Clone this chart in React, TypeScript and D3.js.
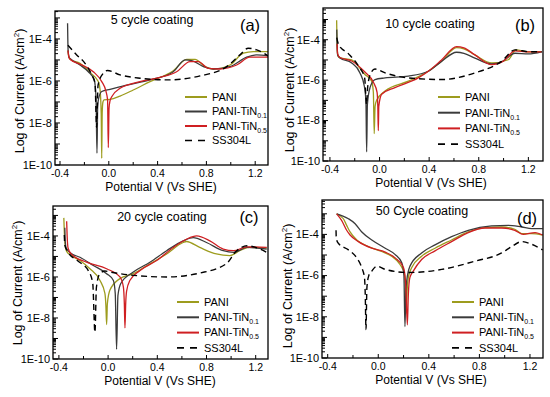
import React from 'react'
import * as d3 from 'd3'

// legend / series
const seriesNames = ['PANI', 'PANI-TiN', 'PANI-TiN', 'SS304L']
const seriesSubs = ['', '0.1', '0.5', '']
const seriesColors = ['#9d9c1e', '#3b3b3b', '#cf1f22', '#000000']

const xMajor = [-0.4, 0.0, 0.4, 0.8, 1.2]
const xMinor = [-0.2, 0.2, 0.6, 1.0]
const yLabeled = [-10, -8, -6, -4]

// [potential V vs SHE, log10 current A/cm2]
const aPani = [[-0.334,-4.55],[-0.328,-4.85],[-0.315,-4.98],[-0.236,-5.16],[-0.154,-5.6],[-0.086,-6.03],[-0.072,-6.4],[-0.062,-7.6],[-0.058,-9.68],[-0.054,-7.5],[-0.048,-7.0],[-0.039,-6.9],[0.01,-6.88],[0.092,-6.72],[0.2,-6.43],[0.338,-6.03],[0.529,-5.51],[0.638,-4.97],[0.707,-4.97],[0.79,-5.32],[0.857,-5.43],[0.993,-5.24],[1.103,-4.68],[1.185,-4.6],[1.307,-4.6]]
const aTin01 = [[-0.338,-3.25],[-0.336,-4.0],[-0.333,-4.6],[-0.325,-4.88],[-0.313,-4.95],[-0.236,-5.24],[-0.168,-5.56],[-0.119,-5.95],[-0.105,-6.75],[-0.097,-9.44],[-0.091,-7.2],[-0.084,-6.85],[-0.058,-6.5],[0.01,-6.4],[0.147,-6.2],[0.338,-5.95],[0.529,-5.56],[0.625,-5.0],[0.68,-5.03],[0.775,-5.32],[0.857,-5.43],[0.993,-5.32],[1.13,-4.87],[1.212,-4.76],[1.307,-4.81]]
const aTin05 = [[-0.334,-4.55],[-0.328,-4.85],[-0.315,-4.98],[-0.236,-5.2],[-0.127,-5.56],[-0.058,-6.03],[-0.023,-6.5],[-0.01,-6.9],[-0.004,-9.17],[0.002,-7.3],[0.01,-6.95],[0.024,-6.75],[0.092,-6.35],[0.256,-6.03],[0.42,-5.83],[0.556,-5.56],[0.666,-5.08],[0.734,-5.08],[0.816,-5.4],[0.911,-5.43],[1.048,-5.24],[1.157,-4.87],[1.307,-4.87]]
const aSs = [[-0.335,-4.3],[-0.263,-4.76],[-0.195,-5.16],[-0.14,-5.71],[-0.113,-6.11],[-0.1,-8.2],[-0.088,-6.2],[-0.045,-5.63],[-0.012,-5.5],[0.092,-5.71],[0.256,-5.87],[0.475,-5.95],[0.748,-5.76],[0.966,-5.32],[1.075,-4.76],[1.143,-4.44],[1.212,-4.52],[1.307,-4.81]]

const bPani = [[-0.346,-3.04],[-0.344,-3.8],[-0.341,-4.5],[-0.335,-4.8],[-0.319,-4.9],[-0.225,-5.0],[-0.118,-5.72],[-0.064,-6.05],[-0.05,-6.6],[-0.043,-8.65],[-0.036,-7.3],[-0.024,-7.0],[0.044,-6.54],[0.232,-6.05],[0.393,-5.56],[0.5,-5.07],[0.621,-4.39],[0.68,-4.45],[0.769,-4.75],[0.904,-5.15],[1.038,-4.99],[1.1,-4.5],[1.2,-4.6],[1.307,-4.59]]
const bTin01 = [[-0.345,-3.5],[-0.342,-4.3],[-0.338,-4.75],[-0.319,-4.9],[-0.225,-5.15],[-0.158,-5.64],[-0.123,-6.29],[-0.11,-7.0],[-0.104,-9.55],[-0.098,-7.2],[-0.077,-6.37],[-0.037,-5.97],[0.044,-5.89],[0.232,-5.8],[0.393,-5.56],[0.5,-5.07],[0.621,-4.62],[0.68,-4.67],[0.769,-4.91],[0.904,-5.2],[0.984,-5.1],[1.092,-4.67],[1.2,-4.7],[1.307,-4.6]]
const bTin05 = [[-0.342,-4.2],[-0.338,-4.7],[-0.319,-4.88],[-0.225,-5.05],[-0.118,-5.6],[-0.05,-6.1],[-0.02,-6.6],[-0.014,-7.3],[-0.01,-8.5],[-0.006,-7.3],[0.017,-6.7],[0.124,-6.37],[0.312,-5.89],[0.393,-5.56],[0.5,-5.0],[0.621,-4.34],[0.68,-4.4],[0.769,-4.75],[0.904,-5.23],[1.0,-5.05],[1.092,-4.55],[1.2,-4.6],[1.307,-4.6]]
const bSs = [[-0.345,-3.9],[-0.33,-4.25],[-0.25,-4.7],[-0.17,-5.3],[-0.12,-5.9],[-0.105,-7.2],[-0.095,-6.3],[-0.07,-5.65],[-0.037,-5.45],[0.05,-5.65],[0.232,-5.89],[0.5,-5.97],[0.769,-5.64],[0.984,-5.07],[1.092,-4.5],[1.2,-4.59],[1.307,-4.6]]

const cPani = [[-0.36,-3.12],[-0.356,-3.8],[-0.35,-4.4],[-0.337,-4.75],[-0.3,-4.95],[-0.229,-5.2],[-0.148,-5.6],[-0.067,-6.16],[-0.026,-6.8],[-0.018,-7.4],[-0.012,-8.32],[-0.006,-7.3],[0.015,-6.64],[0.096,-6.08],[0.205,-5.84],[0.34,-5.36],[0.476,-4.88],[0.61,-4.32],[0.637,-4.27],[0.745,-4.56],[0.88,-4.88],[0.99,-4.96],[1.07,-4.72],[1.15,-4.56],[1.29,-4.59]]
const cTin01 = [[-0.352,-3.6],[-0.348,-4.3],[-0.34,-4.6],[-0.3,-4.85],[-0.229,-5.04],[-0.12,-5.44],[-0.012,-5.84],[0.042,-6.16],[0.058,-6.8],[0.069,-9.52],[0.08,-6.9],[0.103,-6.32],[0.205,-5.76],[0.34,-5.28],[0.476,-4.72],[0.61,-4.24],[0.692,-4.08],[0.8,-4.32],[0.936,-4.72],[1.02,-4.8],[1.13,-4.56],[1.29,-4.64]]
const cTin05 = [[-0.337,-3.28],[-0.333,-4.0],[-0.325,-4.6],[-0.3,-4.88],[-0.175,-5.28],[-0.012,-5.6],[0.096,-6.0],[0.124,-6.48],[0.132,-7.3],[0.137,-8.48],[0.143,-7.3],[0.15,-6.7],[0.178,-6.16],[0.26,-5.68],[0.395,-5.2],[0.53,-4.56],[0.637,-4.16],[0.72,-4.0],[0.827,-4.24],[0.936,-4.64],[1.02,-4.72],[1.13,-4.53],[1.29,-4.56]]
const cSs = [[-0.356,-3.95],[-0.352,-4.45],[-0.33,-4.75],[-0.25,-5.2],[-0.16,-5.7],[-0.125,-6.3],[-0.107,-8.7],[-0.095,-6.5],[-0.067,-5.84],[-0.026,-5.71],[0.015,-5.76],[0.205,-5.92],[0.476,-6.0],[0.745,-5.81],[0.96,-5.36],[1.045,-4.72],[1.13,-4.48],[1.2,-4.56],[1.29,-4.8]]

const dPani = [[-0.329,-3.0],[-0.276,-3.24],[-0.25,-3.56],[-0.223,-3.88],[-0.17,-4.27],[-0.078,-4.59],[0.027,-4.83],[0.106,-5.06],[0.172,-5.46],[0.207,-5.93],[0.216,-6.6],[0.222,-7.83],[0.228,-6.8],[0.238,-6.09],[0.264,-5.62],[0.343,-5.06],[0.449,-4.67],[0.58,-4.27],[0.712,-3.88],[0.844,-3.67],[0.976,-3.64],[1.08,-3.75],[1.134,-3.96],[1.214,-3.96],[1.3,-4.03]]
const dTin01 = [[-0.329,-3.0],[-0.236,-3.24],[-0.183,-3.48],[-0.13,-3.88],[-0.051,-4.27],[0.055,-4.67],[0.134,-4.98],[0.186,-5.38],[0.203,-6.0],[0.211,-8.47],[0.218,-6.9],[0.225,-6.25],[0.251,-5.54],[0.343,-4.9],[0.449,-4.51],[0.58,-4.11],[0.712,-3.8],[0.896,-3.59],[1.028,-3.56],[1.134,-3.64],[1.214,-3.72],[1.3,-3.72]]
const dTin05 = [[-0.329,-3.0],[-0.29,-3.32],[-0.25,-3.8],[-0.223,-4.03],[-0.157,-4.35],[-0.051,-4.67],[0.055,-4.86],[0.134,-5.14],[0.2,-5.62],[0.218,-6.5],[0.23,-8.39],[0.238,-6.9],[0.25,-6.1],[0.277,-5.78],[0.343,-5.22],[0.449,-4.8],[0.58,-4.35],[0.712,-3.91],[0.844,-3.69],[0.976,-3.69],[1.08,-3.8],[1.147,-4.0],[1.24,-3.91],[1.3,-4.03]]
const dSs = [[-0.334,-3.8],[-0.332,-4.19],[-0.316,-4.43],[-0.236,-4.75],[-0.17,-5.14],[-0.13,-5.62],[-0.109,-6.09],[-0.103,-6.9],[-0.097,-8.62],[-0.09,-6.6],[-0.075,-6.0],[-0.051,-5.78],[-0.011,-5.54],[0.055,-5.7],[0.238,-5.85],[0.502,-5.7],[0.765,-5.3],[0.976,-4.9],[1.055,-4.59],[1.134,-4.35],[1.214,-4.48],[1.3,-4.75]]

const panels = [
  { key: 'a', box: [55, 268, 11, 165], xDom: [-0.441, 1.305], yTop: -2.67, curves: [aPani, aTin01, aTin05, aSs],
    title: '5 cycle coating', titlePos: [152, 24], tag: '(a)', tagPos: [250, 31],
    legend: [185, 97, 14.5], ylab: [20, 91], xlabX: 161 },
  { key: 'b', box: [323, 543, 8, 161], xDom: [-0.456, 1.318], yTop: -2.43, curves: [bPani, bTin01, bTin05, bSs],
    title: '10 cycle coating', titlePos: [430, 28], tag: '(b)', tagPos: [525, 31],
    legend: [438, 97, 15.7], ylab: [290, 90], xlabX: 431 },
  { key: 'c', box: [53, 268, 206, 359], xDom: [-0.448, 1.3], yTop: -2.54, curves: [cPani, cTin01, cTin05, cSs],
    title: '20 cycle coating', titlePos: [162, 221], tag: '(c)', tagPos: [249, 223],
    legend: [177, 302, 15.3], ylab: [18, 283], xlabX: 160 },
  { key: 'd', box: [322, 543, 200, 358], xDom: [-0.445, 1.303], yTop: -2.33, curves: [dPani, dTin01, dTin05, dSs],
    title: '50 Cycle coating', titlePos: [422, 215], tag: '(d)', tagPos: [527, 224],
    legend: [452, 302, 15.3], ylab: [288, 286], xlabX: 431 },
]

const font = '"Liberation Sans", Arial, sans-serif'

function Panel({ p }) {
  const [left, right, top, bottom] = p.box
  const x = d3.scaleLinear().domain(p.xDom).range([left, right])
  const y = d3.scaleLog().domain([1e-10, Math.pow(10, p.yTop)]).range([bottom, top])
  const line = d3.line().x(d => x(d[0])).y(d => y(Math.pow(10, d[1]))).curve(d3.curveMonotoneX)

  const yTicks = []
  for (let e = -10; e <= -2; e++) {
    for (let k = 1; k <= 9; k++) {
      const v = k * Math.pow(10, e)
      if (v <= Math.pow(10, p.yTop)) yTicks.push({ v, major: k === 1 })
    }
  }
  const [lx, ly, ldy] = p.legend

  return <g>
    <defs>
      <clipPath id={`clip-${p.key}`}><rect x={left} y={top} width={right - left} height={bottom - top} /></clipPath>
    </defs>
    <g clipPath={`url(#clip-${p.key})`}>
      {p.curves.map((c, i) => <path key={i} d={line(c)} fill="none" stroke={seriesColors[i]}
        strokeWidth={i === 3 ? 1.4 : 1.3} strokeDasharray={i === 3 ? '6,4' : null} strokeLinejoin="round" />)}
    </g>
    <rect x={left} y={top} width={right - left} height={bottom - top} fill="none" stroke="#000" strokeWidth={1.3} />
    {yTicks.map((t, i) => <line key={i} x1={left} x2={left + (t.major ? 5 : 3)} y1={y(t.v)} y2={y(t.v)} stroke="#000" strokeWidth={1} />)}
    {yLabeled.map(e => <text key={e} x={left - 3} y={y(Math.pow(10, e))} dy="0.35em" textAnchor="end" fontSize={11}>{`1E${e}`}</text>)}
    {xMajor.map(v => <g key={v}>
      <line x1={x(v)} x2={x(v)} y1={bottom} y2={bottom - 4} stroke="#000" strokeWidth={1} />
      <text x={x(v)} y={bottom + 12} textAnchor="middle" fontSize={10.5}>{v.toFixed(1)}</text>
    </g>)}
    {xMinor.map(v => <line key={v} x1={x(v)} x2={x(v)} y1={bottom} y2={bottom - 3} stroke="#000" strokeWidth={1} />)}
    <text x={p.xlabX} y={bottom + 25.5} textAnchor="middle" fontSize={12}>Potential V (Vs SHE)</text>
    <text transform={`translate(${p.ylab[0]},${p.ylab[1]}) rotate(-90)`} textAnchor="middle" dy="0.35em" fontSize={12.5}>
      Log of Current (A/cm<tspan dy="-5" fontSize={8}>2</tspan><tspan dy="5">)</tspan>
    </text>
    <text x={p.titlePos[0]} y={p.titlePos[1]} textAnchor="middle" fontSize={12.5}>{p.title}</text>
    <text x={p.tagPos[0]} y={p.tagPos[1]} textAnchor="middle" fontSize={16.5}>{p.tag}</text>
    {seriesNames.map((n, i) => <g key={i}>
      <line x1={lx} x2={lx + 22} y1={ly + i * ldy} y2={ly + i * ldy} stroke={seriesColors[i]}
        strokeWidth={i === 3 ? 1.6 : 2} strokeDasharray={i === 3 ? '7,6' : null} />
      <text x={lx + 27} y={ly + i * ldy} dy="0.35em" fontSize={11}>
        {n}{seriesSubs[i] ? <tspan dy="3" fontSize={7}>{seriesSubs[i]}</tspan> : null}
      </text>
    </g>)}
  </g>
}

export default function App() {
  return <svg width={550} height={397} style={{ position: 'absolute', left: 0, top: 0, background: '#fff' }}
    fontFamily={font}>
    <rect width={550} height={397} fill="#fff" />
    {panels.map(p => <Panel key={p.key} p={p} />)}
  </svg>
}
